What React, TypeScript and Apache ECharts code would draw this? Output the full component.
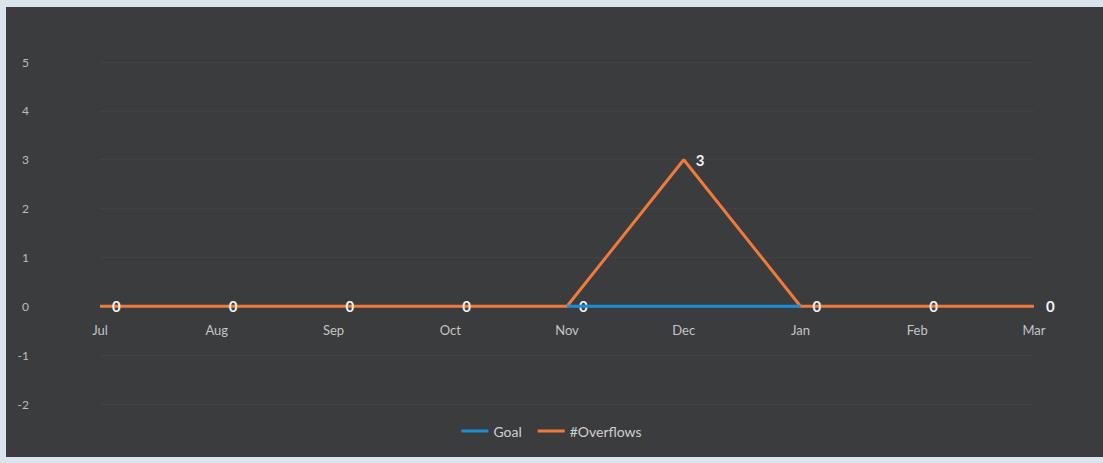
import React, { useEffect, useRef } from "react";
import * as echarts from "echarts";

const months = ["Jul", "Aug", "Sep", "Oct", "Nov", "Dec", "Jan", "Feb", "Mar"];
const goal: (number | null)[] = [null, null, null, null, 0, 0, 0, null, null];
const overflows: number[] = [0, 0, 0, 0, 0, 3, 0, 0, 0];
const yTicks = { min: -2, max: 5, interval: 1 };

export default function App() {
  const ref = useRef<HTMLDivElement>(null);
  useEffect(() => {
    if (!ref.current) return;
    const chart = echarts.init(ref.current, undefined, { renderer: "svg" });
    const font = "Lato, 'Open Sans', sans-serif";
    chart.setOption({
      animation: false,
      backgroundColor: "#dbe3ec",
      textStyle: { fontFamily: font },
      graphic: [
        {
          type: "rect",
          z: -10,
          silent: true,
          shape: { x: 6, y: 7, width: 1097, height: 450 },
          style: { fill: "#3b3c3e" },
        },
      ],
      grid: { left: 100, right: 69, top: 62, bottom: 59 },
      legend: {
        bottom: 20,
        left: "center",
        itemWidth: 27,
        itemHeight: 3,
        itemGap: 16,
        icon: "rect",
        textStyle: { color: "#d0d0d0", fontSize: 14, fontFamily: font },
        data: ["Goal", "#Overflows"],
      },
      xAxis: {
        type: "category",
        data: months,
        boundaryGap: false,
        position: "bottom",
        offset: -98,
        axisLine: { show: false, onZero: false },
        axisTick: { show: false },
        axisLabel: { color: "#c4c4c4", fontSize: 13, margin: 17, fontFamily: font },
        splitLine: { show: false },
      },
      yAxis: {
        type: "value",
        min: yTicks.min,
        max: yTicks.max,
        interval: yTicks.interval,
        axisLine: { show: false },
        axisTick: { show: false },
        axisLabel: { color: "#bdbdbd", fontSize: 12, margin: 71, fontFamily: font },
        splitLine: { show: true, lineStyle: { color: "rgba(255,255,255,0.04)", width: 1 } },
      },
      series: [
        {
          name: "Goal",
          type: "line",
          data: goal,
          showSymbol: false,
          symbol: "none",
          lineStyle: { color: "#1d8ed6", width: 3 },
          itemStyle: { color: "#1d8ed6" },
          z: 3,
        },
        {
          name: "#Overflows",
          type: "line",
          data: overflows,
          symbol: "circle",
          symbolSize: 0,
          showSymbol: true,
          lineStyle: { color: "#f07a3c", width: 3 },
          itemStyle: { color: "#f07a3c" },
          z: 2,
          label: {
            show: true,
            position: "right",
            distance: 12,
            color: "#f2f2f2",
            fontSize: 15,
            fontWeight: "bold",
            fontFamily: font,
          },
        },
      ],
    });
    return () => chart.dispose();
  }, []);
  return (
    <div
      ref={ref}
      style={{ position: "absolute", left: 0, top: 0, width: 1103, height: 463 }}
    />
  );
}
